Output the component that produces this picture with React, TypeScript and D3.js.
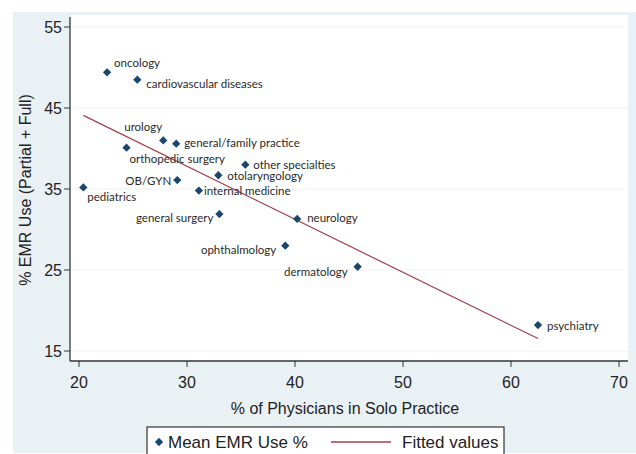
import React from 'react';
import * as d3 from 'd3';

// specialty means
const specialties = [
  'oncology', 'cardiovascular diseases', 'urology', 'general/family practice',
  'orthopedic surgery', 'other specialties', 'otolaryngology', 'OB/GYN',
  'pediatrics', 'internal medicine', 'general surgery', 'neurology',
  'ophthalmology', 'dermatology', 'psychiatry',
];
const soloPct = [22.6, 25.4, 27.8, 29.0, 24.4, 35.4, 32.9, 29.1, 20.4, 31.1, 33.0, 40.2, 39.1, 45.8, 62.5];
const emrUse = [49.4, 48.5, 41.0, 40.6, 40.1, 38.0, 36.7, 36.1, 35.2, 34.8, 31.9, 31.3, 28.0, 25.4, 18.2];

const xTicks = [20, 30, 40, 50, 60, 70];
const yTicks = [15, 25, 35, 45, 55];

const xTitle = '% of Physicians in Solo Practice';
const yTitle = '% EMR Use (Partial + Full)';
const legendLabels = ['Mean EMR Use %', 'Fitted values'];

// marker label placement: dx, dy, anchor
const labelPos: Record<string, [number, number, string]> = {
  'oncology': [7, -9, 'start'],
  'cardiovascular diseases': [9, 4, 'start'],
  'urology': [-1, -13, 'end'],
  'general/family practice': [8, -1, 'start'],
  'orthopedic surgery': [3, 11, 'start'],
  'other specialties': [8, 0, 'start'],
  'otolaryngology': [9, 1, 'start'],
  'OB/GYN': [-6, 1, 'end'],
  'pediatrics': [4, 10, 'start'],
  'internal medicine': [5, 0, 'start'],
  'general surgery': [-6, 4, 'end'],
  'neurology': [10, -1, 'start'],
  'ophthalmology': [-9, 4, 'end'],
  'dermatology': [-10, 5, 'end'],
  'psychiatry': [9, 1, 'start'],
};

const W = 636;
const H = 454;
const navy = '#1a476f';
const maroon = '#a0404a';
const bluish = '#eaf1f5';
const axisFont = '"Liberation Sans", Arial, sans-serif';
const labelFont = 'Lato, "Open Sans", sans-serif';

const diamond = d3.symbol().type(d3.symbolDiamond2).size(44);

export default function App() {
  const x = d3.scaleLinear().domain([20, 70]).range([79, 619]);
  const y = d3.scaleLinear().domain([15, 55]).range([351, 27]);

  const plot = { left: 70, top: 15, right: 628, bottom: 361 };

  // OLS fit
  const mx = d3.mean(soloPct) as number;
  const my = d3.mean(emrUse) as number;
  const sxy = d3.sum(soloPct, (v, i) => (v - mx) * (emrUse[i] - my));
  const sxx = d3.sum(soloPct, (v) => (v - mx) ** 2);
  const slope = sxy / sxx;
  const icpt = my - slope * mx;
  const [x0, x1] = d3.extent(soloPct) as [number, number];
  const fit = d3.line<number>().x((d) => x(d)).y((d) => y(icpt + slope * d))([x0, x1]);

  return (
    <svg width={W} height={H} style={{ position: 'absolute', left: 0, top: 0 }}>
      <rect x={0} y={0} width={W} height={H} fill="#fff" />
      <rect x={13} y={12} width={W - 13} height={H - 13} fill={bluish} />
      <rect x={plot.left} y={plot.top} width={plot.right - plot.left} height={plot.bottom - plot.top} fill="#fff" />

      {yTicks.map((t) => (
        <g key={t}>
          <line x1={plot.left} x2={plot.right} y1={y(t)} y2={y(t)} stroke="#eef3f6" strokeWidth={1.2} />
          <line x1={plot.left - 6} x2={plot.left} y1={y(t)} y2={y(t)} stroke="#333" strokeWidth={1} />
          <text x={plot.left - 8} y={y(t)} dy="0.35em" textAnchor="end" fontFamily={axisFont} fontSize={16} fill="#222">{t}</text>
        </g>
      ))}
      {xTicks.map((t) => (
        <g key={t}>
          <line x1={x(t)} x2={x(t)} y1={plot.bottom} y2={plot.bottom + 6} stroke="#333" strokeWidth={1} />
          <text x={x(t)} y={plot.bottom + 21} dy="0.35em" textAnchor="middle" fontFamily={axisFont} fontSize={16} fill="#222">{t}</text>
        </g>
      ))}
      <line x1={plot.left} x2={plot.left} y1={plot.top + 2} y2={plot.bottom} stroke="#333" strokeWidth={1.3} />
      <line x1={plot.left} x2={plot.right} y1={plot.bottom} y2={plot.bottom} stroke="#333" strokeWidth={1.3} />

      <text x={345} y={408} dy="0.35em" textAnchor="middle" fontFamily={axisFont} fontSize={16} fill="#222">{xTitle}</text>
      <text transform={`translate(25,${190}) rotate(-90)`} dy="0.35em" textAnchor="middle" fontFamily={axisFont} fontSize={16} fill="#222">{yTitle}</text>

      <path d={fit ?? ''} fill="none" stroke={maroon} strokeWidth={1.2} />

      {specialties.map((s, i) => {
        const [dx, dy, anchor] = labelPos[s];
        const px = x(soloPct[i]);
        const py = y(emrUse[i]);
        return (
          <g key={s}>
            <path d={diamond() ?? ''} transform={`translate(${px},${py})`} fill={navy} />
            <text x={px + dx} y={py + dy} dy="0.35em" textAnchor={anchor as any} fontFamily={labelFont} fontSize={11.5} fill="#2a2a2a">{s}</text>
          </g>
        );
      })}

      <g>
        <rect x={147} y={427} width={357} height={40} fill="#fff" stroke="#333" strokeWidth={1.2} />
        <path d={diamond() ?? ''} transform="translate(159,442)" fill={navy} />
        <text x={168} y={442} dy="0.35em" fontFamily={axisFont} fontSize={17} fill="#222">{legendLabels[0]}</text>
        <line x1={331} x2={391} y1={442} y2={442} stroke={maroon} strokeWidth={1.5} />
        <text x={402} y={442} dy="0.35em" fontFamily={axisFont} fontSize={17} fill="#222">{legendLabels[1]}</text>
      </g>
    </svg>
  );
}
